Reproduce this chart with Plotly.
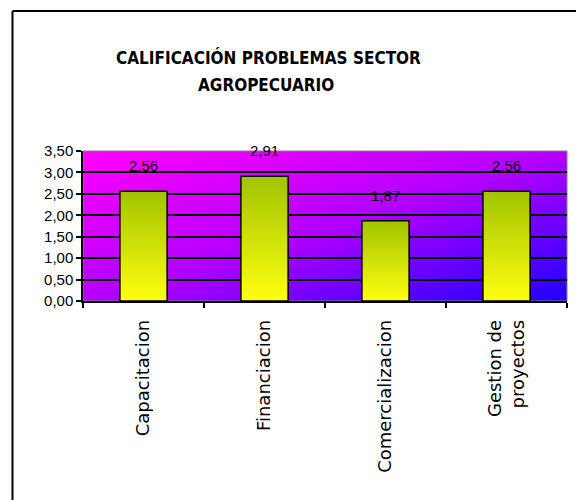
import base64
import plotly.graph_objects as go

categories = ["Capacitacion", "Financiacion", "Comercializacion", "Gestion de<br>proyectos"]
values = [2.56, 2.91, 1.87, 2.56]
value_labels = ["2,56", "2,91", "1,87", "2,56"]
title_lines = ["CALIFICACIÓN PROBLEMAS SECTOR", "AGROPECUARIO"]

# the page body has an 8px default margin, so the figure is 8px smaller and shifted
OFF = 8
W, H = 584 - OFF, 500 - OFF
ML, MR, MT, MB = 83 - OFF, 17, 151 - OFF, 199
PW, PH = W - ML - MR, H - MT - MB
BAR_W = 0.39

def px_to_paper_x(px):
    return (px - OFF - ML) / PW

def px_to_paper_y(py):
    return (H - MB - (py - OFF)) / PH

fig = go.Figure()

# gradient background (magenta -> blue, diagonal)
svg = ('<svg xmlns="http://www.w3.org/2000/svg" width="100" height="100" viewBox="0 0 100 100" preserveAspectRatio="none">'
       '<defs><linearGradient id="g" x1="0" y1="0" x2="1" y2="1">'
       '<stop offset="0" stop-color="#FF00FF"/><stop offset="0.5" stop-color="#B400FF"/>'
       '<stop offset="1" stop-color="#2000FF"/></linearGradient></defs>'
       '<rect x="0" y="0" width="100" height="100" fill="url(#g)"/></svg>')
src = "data:image/svg+xml;base64," + base64.b64encode(svg.encode()).decode()
fig.add_layout_image(source=src, xref="paper", yref="paper", x=0, y=1, sizex=1, sizey=1,
                     xanchor="left", yanchor="top", sizing="stretch", layer="below")

for i, v in enumerate(values):
    x0, x1 = i - BAR_W / 2, i + BAR_W / 2
    fig.add_trace(go.Scatter(
        x=[x0, x1, x1, x0, x0], y=[0, 0, v, v, 0],
        mode="lines", fill="toself",
        fillgradient=dict(type="vertical", colorscale=[[0, "#FFFF10"], [1, "#A0C400"]]),
        line=dict(color="black", width=1.5),
        hoverinfo="skip", showlegend=False))

for i, (v, t) in enumerate(zip(values, value_labels)):
    fig.add_annotation(x=i, y=v, text=t, showarrow=False, yanchor="bottom", yshift=15,
                       font=dict(family="Liberation Sans, Arial", size=15, color="black"))

title_font = dict(family="DejaVu Sans Condensed, Liberation Sans Narrow, Liberation Sans", size=17,
                  color="black", weight="bold")
for line, (cx, cy) in zip(title_lines, [(268, 58), (266, 85)]):
    fig.add_annotation(x=px_to_paper_x(cx), y=px_to_paper_y(cy), xref="paper", yref="paper",
                       text=line, showarrow=False, xanchor="center", yanchor="middle", font=title_font)

# outer frame (top + left edges)
fx = px_to_paper_x(12.5)
fy = px_to_paper_y(11)
fig.add_shape(type="line", xref="paper", yref="paper", x0=fx, x1=px_to_paper_x(620), y0=fy, y1=fy,
              line=dict(color="black", width=2))
fig.add_shape(type="line", xref="paper", yref="paper", x0=fx, x1=fx, y0=fy, y1=px_to_paper_y(540),
              line=dict(color="black", width=2))
# thin gray plot border
fig.add_shape(type="rect", xref="paper", yref="paper", x0=0, x1=1, y0=0, y1=1,
              line=dict(color="#808080", width=1), layer="below")

fig.update_layout(
    width=W, height=H, margin=dict(l=ML, r=MR, t=MT, b=MB, pad=0),
    paper_bgcolor="white", plot_bgcolor="rgba(0,0,0,0)",
    separators=",.", showlegend=False,
    xaxis=dict(range=[-0.5, 3.5], tickmode="array", tickvals=list(range(len(categories))),
               ticktext=categories, ticks="", tickangle=-90, ticklabelstandoff=10,
               tickfont=dict(family="DejaVu Sans", size=18, color="black"),
               showgrid=False, zeroline=False, showline=True, linecolor="black", linewidth=1.5,
               minor=dict(tickmode="array", tickvals=[k - 0.5 for k in range(len(categories) + 1)],
                          ticks="outside", ticklen=5, tickcolor="black", tickwidth=1.5, showgrid=False),
               fixedrange=True),
    yaxis=dict(range=[0, 3.5], dtick=0.5, tick0=0, tickformat=".2f", ticks="outside", ticklen=5,
               tickcolor="black", tickwidth=1.5,
               tickfont=dict(family="Liberation Sans, Arial", size=15, color="black"),
               showgrid=True, gridcolor="black", gridwidth=1.5, zeroline=False,
               showline=True, linecolor="black", linewidth=1.5, fixedrange=True),
)

fig.write_html("out.html")
